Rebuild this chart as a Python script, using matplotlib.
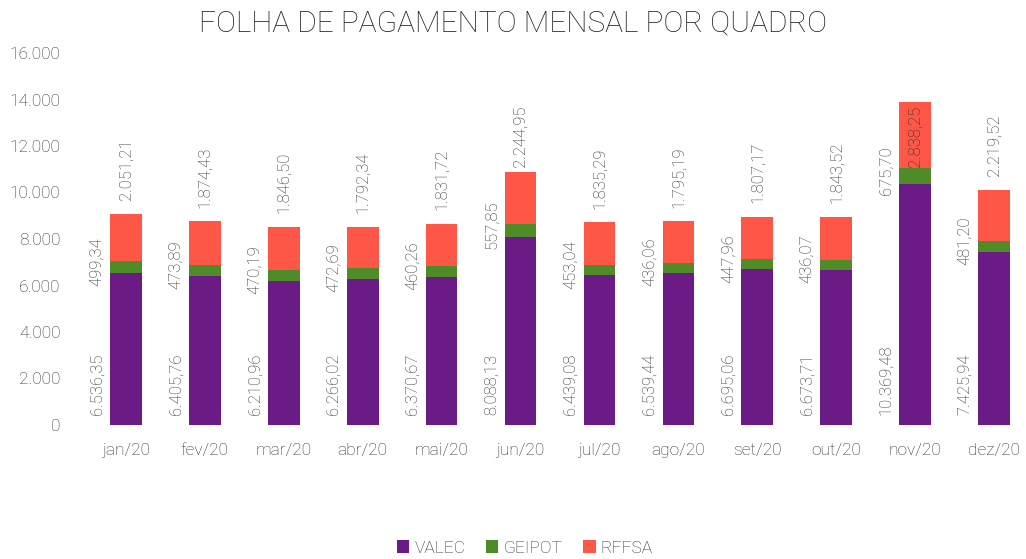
import matplotlib
matplotlib.use("Agg")
import matplotlib.pyplot as plt
from matplotlib.ticker import FuncFormatter
import numpy as np

months = ["jan/20", "fev/20", "mar/20", "abr/20", "mai/20", "jun/20",
          "jul/20", "ago/20", "set/20", "out/20", "nov/20", "dez/20"]
valec = [6536.35, 6405.76, 6210.96, 6266.02, 6370.67, 8088.13,
         6439.08, 6539.44, 6695.06, 6673.71, 10369.48, 7425.94]
geipot = [499.34, 473.89, 470.19, 472.69, 460.26, 557.85,
          453.04, 436.06, 447.96, 436.07, 675.70, 481.20]
rffsa = [2051.21, 1874.43, 1846.50, 1792.34, 1831.72, 2244.95,
         1835.29, 1795.19, 1807.17, 1843.52, 2838.25, 2219.52]

C_VALEC = "#6A1B86"
C_GEIPOT = "#4F8C27"
C_RFFSA = "#FF5747"
TXT = "#2E2E2E"

plt.rcParams['font.family'] = ['Roboto', 'DejaVu Sans']
plt.rcParams['font.weight'] = 'light'

def br(v, dec=2):
    s = f"{v:,.{dec}f}"
    return s.replace(",", "X").replace(".", ",").replace("X", ".")

fig = plt.figure(figsize=(10.26, 5.59), dpi=100)
W, H = 1026, 559
ax_left, ax_right = 80, 1020
ax_top, ax_bot = 53, 425
ax = fig.add_axes([ax_left / W, 1 - ax_bot / H, (ax_right - ax_left) / W, (ax_bot - ax_top) / H])

x = np.arange(len(months))
v = np.array(valec); g = np.array(geipot); r = np.array(rffsa)
bw = 0.40
ax.bar(x, v, bw, color=C_VALEC, label="VALEC")
ax.bar(x, g, bw, bottom=v, color=C_GEIPOT, label="GEIPOT")
ax.bar(x, r, bw, bottom=v + g, color=C_RFFSA, label="RFFSA")

px = 78.9
ax.set_xlim(-(126 - ax_left) / px, 11 + (ax_right - 994) / px)
ax.set_ylim(0, 16000)
ax.set_yticks(np.arange(0, 16001, 2000))
ax.yaxis.set_major_formatter(FuncFormatter(lambda y, p: br(y, 0)))
ax.set_xticks(x)
ax.set_xticklabels(months)
for s in ax.spines.values():
    s.set_visible(False)
ax.tick_params(axis='both', length=0, labelsize=12.5, labelcolor=TXT)
ax.tick_params(axis='x', pad=13)
ax.tick_params(axis='y', pad=14)

fs = 12
for i in range(len(months)):
    ax.text(x[i] - 0.37, 420, br(v[i]), rotation=90, ha='center', va='bottom',
            fontsize=fs, color=TXT)
    ax.text(x[i] - 0.37, v[i] + g[i] / 2 + 250, br(g[i]), rotation=90, ha='center',
            va='center', fontsize=fs, color=TXT)
    top = v[i] + g[i] + r[i]
    yc = min(top + 1900, 12400)
    ax.text(x[i], yc, br(r[i]), rotation=90, ha='center', va='center',
            fontsize=fs, color=TXT)

fig.text(513 / W, 1 - 23 / H, "FOLHA DE PAGAMENTO MENSAL POR QUADRO",
         ha='center', va='center', fontsize=21.5, color="#1E1E1E")

handles, labels = ax.get_legend_handles_labels()
fig.legend(handles, labels, loc='center', bbox_to_anchor=(525 / W, 1 - 548 / H),
           ncol=3, frameon=False, fontsize=12.5, handlelength=0.7, handleheight=0.7,
           handletextpad=0.3, columnspacing=1.2, labelcolor=TXT)

fig.savefig("out.png", dpi=100, facecolor="white")
